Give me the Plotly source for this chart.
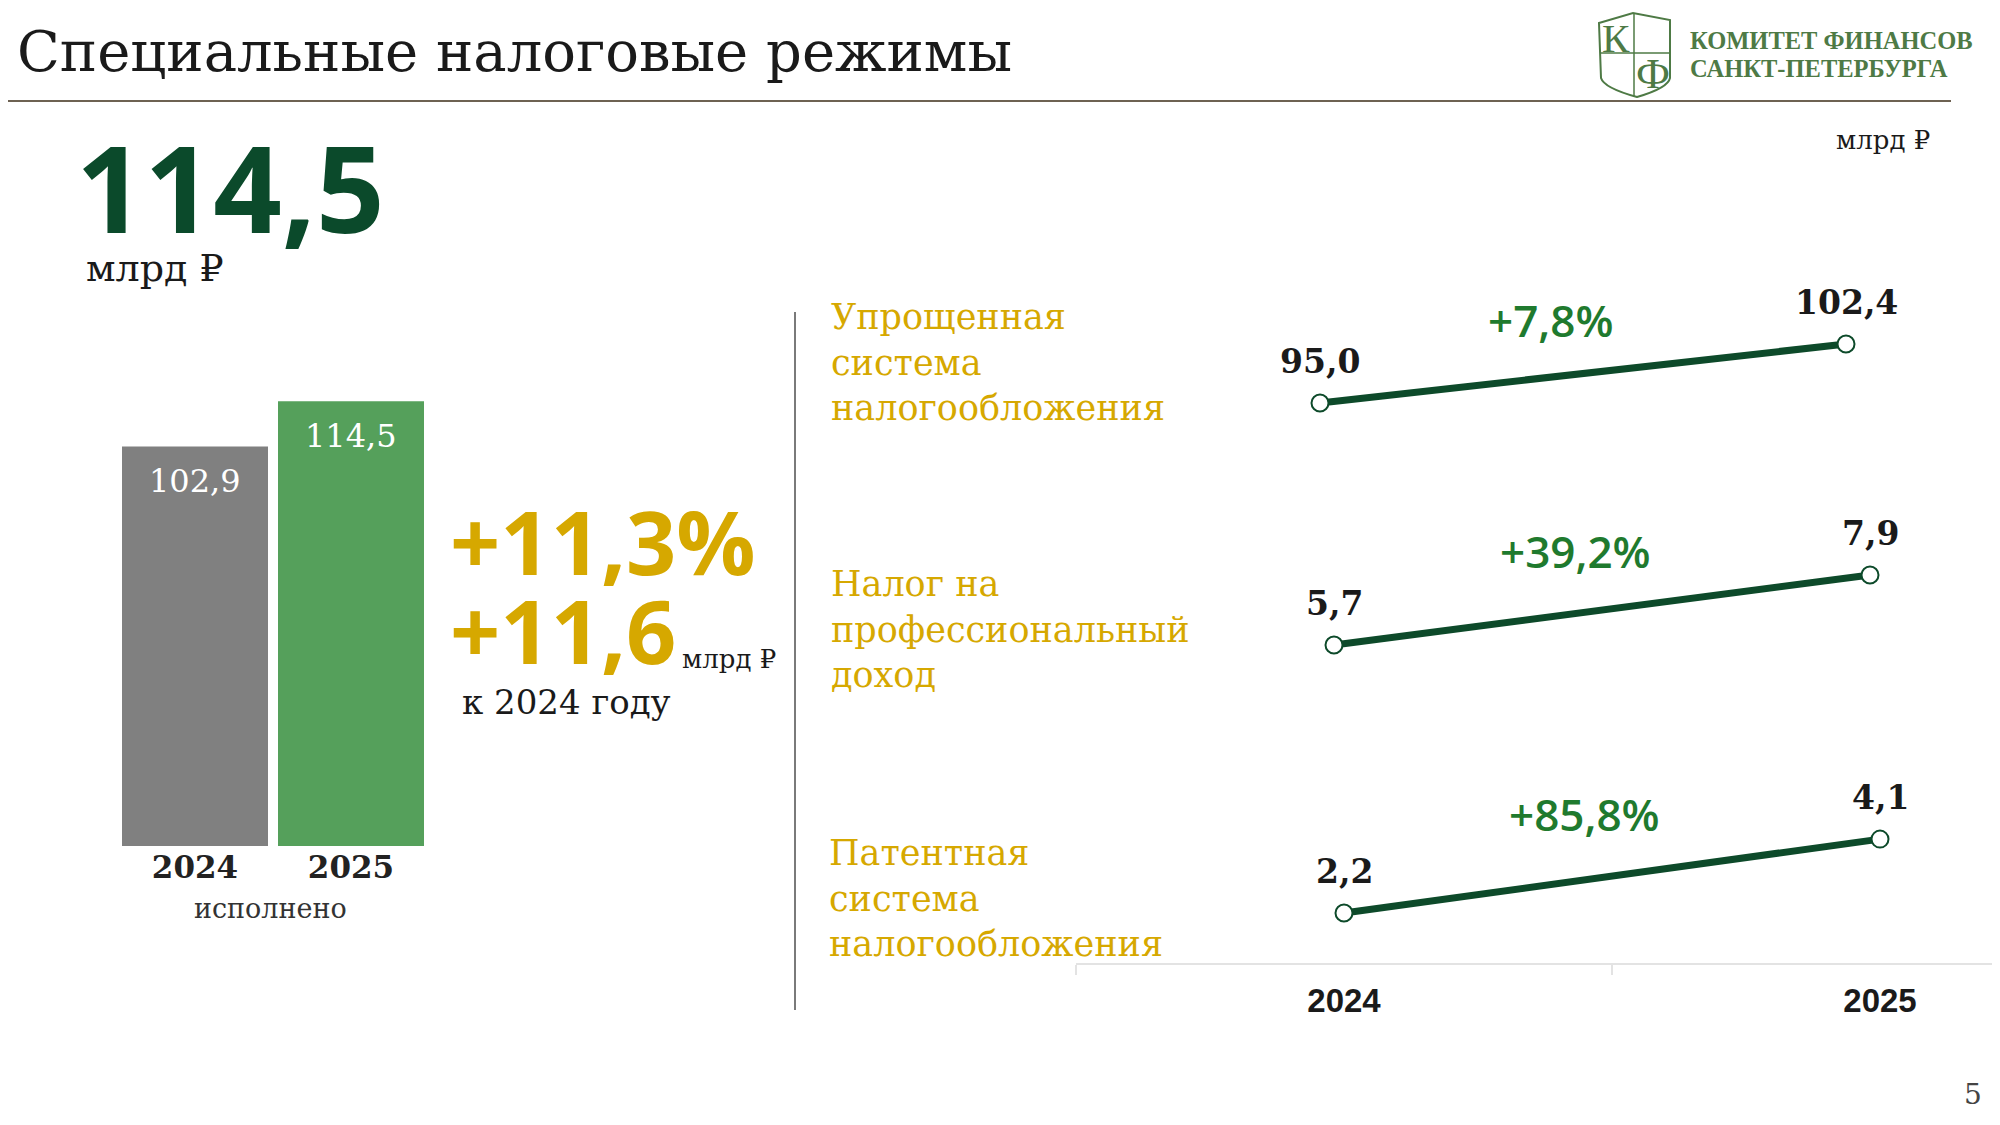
import plotly.graph_objects as go

# ---------------- data ----------------
bar_years = ["2024", "2025"]
bar_values = [102.9, 114.5]
bar_labels = ["102,9", "114,5"]

line_years = ["2024", "2025"]
regime_names = [
    "Упрощенная<br>система<br>налогообложения",
    "Налог на<br>профессиональный<br>доход",
    "Патентная<br>система<br>налогообложения",
]
usn_values = [95.0, 102.4]
npd_values = [5.7, 7.9]
patent_values = [2.2, 4.1]
usn_labels = ["95,0", "102,4"]
npd_labels = ["5,7", "7,9"]
patent_labels = ["2,2", "4,1"]
growth_labels = ["+7,8%", "+39,2%", "+85,8%"]

total_value = "114,5"
growth_pct = "+11,3%"
growth_abs = "+11,6"

# ---------------- styling ----------------
W, H = 2000, 1125
OFF = 8  # page body margin compensation
SERIF = "DejaVu Serif"
SANS = "Open Sans"
GOLD = "#d6a800"
DARK_GREEN = "#0b4a2b"
LINE_GREEN = "#0d4a2a"
PCT_GREEN = "#1f7a2e"
LOGO_GREEN = "#4e7a45"


def px(x):
    return (x - OFF) / W


def py(y):
    return 1 - (y - OFF) / H


fig = go.Figure()

# bar chart
fig.add_trace(go.Bar(
    x=bar_years, y=bar_values,
    marker=dict(color=["#808080", "#55a05b"], line=dict(width=0)),
    xaxis="x", yaxis="y", showlegend=False, hoverinfo="skip",
))

layout_axes = {}
layout_axes["xaxis"] = dict(domain=[px(117), px(429)], anchor="y", type="category",
                            range=[-0.5, 1.5], automargin=False,
                            showgrid=False, showline=False, zeroline=False, ticks="",
                            tickfont=dict(family=SERIF, size=31, color="#222222", weight="bold"))
layout_axes["yaxis"] = dict(domain=[py(846), py(380)], anchor="x", range=[0, 120],
                            visible=False, showgrid=False, zeroline=False, automargin=False)

annotations = []
for i, (v, lab) in enumerate(zip(bar_values, bar_labels)):
    annotations.append(dict(x=i, y=v, xref="x", yref="y", text=lab, showarrow=False,
                            yshift=-35, yanchor="middle",
                            font=dict(family=SERIF, size=32, color="white")))

# line panels: (values, labels, x0 px, dx px, y pixel domain, y range)
panels = [
    (usn_values, usn_labels, 1320, 526, (280, 440), [90.36, 110.43]),
    (npd_values, npd_labels, 1334, 536, (500, 680), [4.6, 10.26]),
    (patent_values, patent_labels, 1344, 536, (780, 963), [0.915, 5.62]),
]
pct_pos = [(1550, 320), (1575, 551), (1584, 814)]
name_pos = [(829, 362), (829, 629), (827, 898)]

for k, (vals, labs, x0, dx, (ytop, ybot), yr) in enumerate(panels):
    n = k + 2
    xa, ya = f"x{n}", f"y{n}"
    fig.add_trace(go.Scatter(
        x=line_years, y=vals, mode="lines+markers", xaxis=xa, yaxis=ya,
        line=dict(color=LINE_GREEN, width=7),
        marker=dict(size=17, color="white", line=dict(color=LINE_GREEN, width=2)),
        showlegend=False, hoverinfo="skip", cliponaxis=False,
    ))
    last = (k == len(panels) - 1)
    xdict = dict(domain=[px(x0 - dx / 2), 1], anchor=ya, type="category", automargin=False,
                 range=[-0.5, (W + OFF - x0) / dx], showgrid=False, zeroline=False)
    if last:
        xdict.update(showline=True, linecolor="#e3e3e3", linewidth=2,
                     ticks="outside", tickson="boundaries", ticklen=10, tickcolor="#e3e3e3",
                     tickwidth=2, ticklabelstandoff=7,
                     tickfont=dict(family="Liberation Sans", size=33, color="#1a1a1a", weight="bold"))
    else:
        xdict.update(showline=False, showticklabels=False, ticks="")
    layout_axes[f"xaxis{n}"] = xdict
    layout_axes[f"yaxis{n}"] = dict(domain=[py(ybot), py(ytop)], anchor=xa, range=yr,
                                    visible=False, showgrid=False, zeroline=False, automargin=False)
    for i, (v, lab) in enumerate(zip(vals, labs)):
        annotations.append(dict(x=i, y=v, xref=xa, yref=ya, text=lab, showarrow=False,
                                yshift=42, yanchor="middle",
                                font=dict(family=SERIF, size=33, color="#1a1a1a", weight="bold")))
    annotations.append(dict(x=px(pct_pos[k][0]), y=py(pct_pos[k][1]), xref="paper", yref="paper",
                            text=growth_labels[k], showarrow=False, xanchor="center", yanchor="middle",
                            font=dict(family=SANS, size=44, color=PCT_GREEN, weight=600)))
    annotations.append(dict(x=px(name_pos[k][0]), y=py(name_pos[k][1]), xref="paper", yref="paper",
                            text=regime_names[k], showarrow=False, xanchor="left", yanchor="middle",
                            align="left", font=dict(family=SERIF, size=35, color=GOLD)))

# texts
def txt(x, y, text, size, color, family=SERIF, xanchor="left", weight="normal"):
    annotations.append(dict(x=px(x), y=py(y), xref="paper", yref="paper", text=text,
                            showarrow=False, xanchor=xanchor, yanchor="middle",
                            font=dict(family=family, size=size, color=color, weight=weight)))

txt(15, 51, "Специальные налоговые режимы", 56, "#1a1a1a")
txt(1688, 40, "КОМИТЕТ ФИНАНСОВ", 24.5, LOGO_GREEN, family="Liberation Serif", weight="bold")
txt(1688, 69, "САНКТ-ПЕТЕРБУРГА", 24.5, LOGO_GREEN, family="Liberation Serif", weight="bold")
txt(1616, 38, "К", 41, LOGO_GREEN, family="Liberation Serif", xanchor="center")
txt(1653, 74, "Ф", 43, LOGO_GREEN, family="Liberation Serif", xanchor="center")
txt(1834, 140, "млрд ₽", 26, "#1a1a1a")
txt(74, 187, total_value, 120, DARK_GREEN, family=SANS, weight="bold")
txt(84, 268, "млрд ₽", 38, "#1a1a1a")
txt(448, 541, growth_pct, 88, GOLD, family=SANS, weight="bold")
txt(448, 630, growth_abs, 88, GOLD, family=SANS, weight="bold")
txt(680, 659, "млрд ₽", 26, "#1a1a1a")
txt(460, 702, "к 2024 году", 34, "#1a1a1a")
txt(270, 908, "исполнено", 27, "#333333", xanchor="center")
txt(1973, 1094, "5", 28, "#444444", xanchor="center")

shapes = [
    # header rule
    dict(type="line", xref="paper", yref="paper", x0=px(OFF), x1=px(1951), y0=py(101), y1=py(101),
         line=dict(color="#6d6252", width=2)),
    # vertical divider
    dict(type="line", xref="paper", yref="paper", x0=px(795), x1=px(795), y0=py(312), y1=py(1010),
         line=dict(color="#7a7a7a", width=2)),
    # logo shield
    dict(type="path", xref="paper", yref="paper",
         path=(f"M {px(1599)},{py(23)} L {px(1633)},{py(13)} L {px(1670)},{py(20)} "
               f"L {px(1670)},{py(78)} Q {px(1668)},{py(88)} {px(1637)},{py(97)} "
               f"Q {px(1604)},{py(88)} {px(1601)},{py(78)} Z"),
         line=dict(color=LOGO_GREEN, width=2)),
    dict(type="line", xref="paper", yref="paper", x0=px(1634), x1=px(1634), y0=py(14), y1=py(96),
         line=dict(color=LOGO_GREEN, width=1.5)),
    dict(type="line", xref="paper", yref="paper", x0=px(1600), x1=px(1670), y0=py(53), y1=py(53),
         line=dict(color=LOGO_GREEN, width=1.5)),
]

fig.update_layout(
    width=W, height=H,
    margin=dict(l=0, r=0, t=0, b=0, autoexpand=False),
    paper_bgcolor="white", plot_bgcolor="rgba(0,0,0,0)",
    bargap=10 / 156,
    annotations=annotations, shapes=shapes,
    **layout_axes,
)

fig.write_html("out.html")
